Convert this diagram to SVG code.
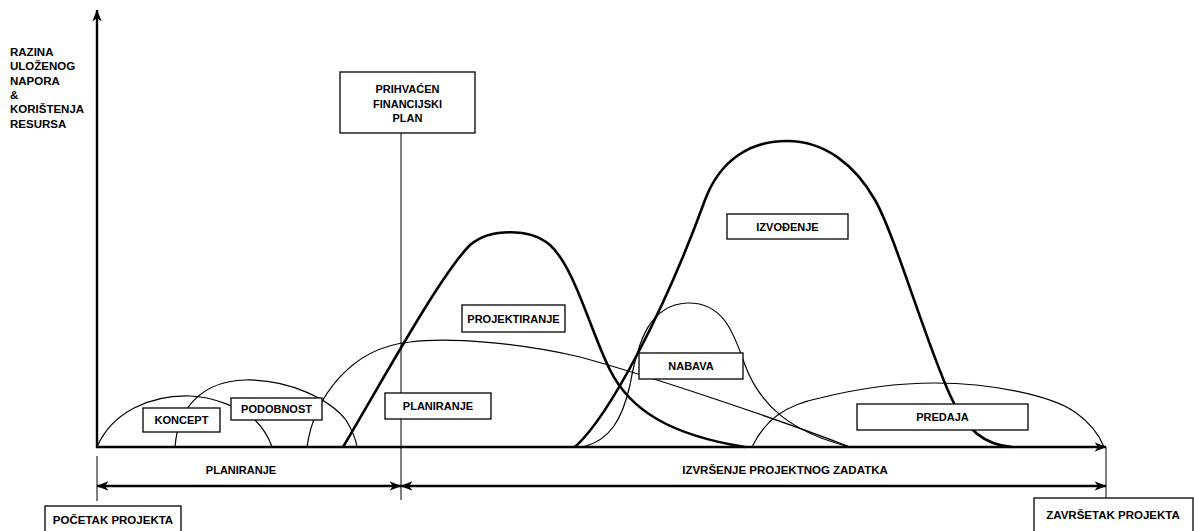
<svg xmlns="http://www.w3.org/2000/svg" width="1194" height="531" viewBox="0 0 1194 531">
<style>
  text { font-family: "Liberation Sans", Arial, sans-serif; font-weight: bold; font-size: 11px; fill: #000; }
  .c { text-anchor: middle; }
  .box { fill: #fff; stroke: #000; stroke-width: 1.3; }
  .thin { fill: none; stroke: #000; stroke-width: 1.2; }
  .thick { fill: none; stroke: #000; stroke-width: 2.6; }
  .axis { fill: none; stroke: #000; stroke-width: 2.4; }
  .tick { fill: none; stroke: #000; stroke-width: 1; }
</style>
<defs>
  <marker id="arr" viewBox="0 0 12 10" refX="11.5" refY="5" markerWidth="12" markerHeight="10" markerUnits="userSpaceOnUse" orient="auto-start-reverse">
    <path d="M0,0.3 L12,5 L0,9.7 L3.5,5 Z" fill="#000"/>
  </marker>
</defs>
<rect width="1194" height="531" fill="#fff"/>

<g id="curves">
  <path id="c-koncept" class="thin" d="M97,447 C112,412 150,395 190,396 C215,397 240,408 255,420 C263,428 269,438 272,447"/>
  <path id="c-podobnost" class="thin" d="M175,447 C178,405 205,381 245,380 C290,379 330,400 346,420 C352,430 356,440 357,447"/>
  <path id="c-planiranje" class="thin" d="M307,447 C314,398 350,348 410,342 C450,337 520,343 580,357 C650,376 780,420 850,447"/>
  <path id="c-projektiranje" class="thick" d="M343,447 C380,385 440,275 470,245 C490,228 530,228 550,245 C575,268 590,330 610,370 C630,410 670,435 745,447"/>
  <path id="c-izvodjenje" class="thick" d="M575,447 C610,415 665,310 705,200 C720,160 750,141 787,141 C825,141 855,165 875,200 C895,235 925,340 950,395 C965,430 985,445 1012,447"/>
  <path id="c-nabava" class="thin" d="M583,447 C610,440 622,420 630,385 C638,340 650,305 687,303 C722,302 733,330 745,365 C760,405 790,432 850,447"/>
  <path id="c-predaja" class="thin" d="M752,447 C765,420 785,405 820,398 C860,388 900,383 935,383 C990,383 1050,395 1075,412 C1092,424 1100,437 1104,447"/>
</g>

<g id="connectors">
  <line class="axis" x1="97" y1="448" x2="97" y2="10" marker-end="url(#arr)"/>
  <line class="axis" x1="96" y1="447" x2="1106" y2="447" marker-end="url(#arr)"/>
  <line class="tick" x1="401" y1="133" x2="401" y2="500"/>
  <line class="tick" x1="97" y1="456" x2="97" y2="501"/>
  <line class="tick" x1="1106" y1="447" x2="1106" y2="499"/>
  <line class="axis" x1="97" y1="486" x2="401" y2="486" marker-start="url(#arr)" marker-end="url(#arr)"/>
  <line class="axis" x1="401" y1="486" x2="1106" y2="486" marker-start="url(#arr)" marker-end="url(#arr)"/>
</g>

<g id="y-label">
  <text x="10" y="56" style="font-size:11.5px">RAZINA</text>
  <text x="10" y="70" style="font-size:11.5px">ULOŽENOG</text>
  <text x="10" y="85" style="font-size:11.5px">NAPORA</text>
  <text x="10" y="99" style="font-size:11.5px">&amp;</text>
  <text x="10" y="113" style="font-size:11.5px">KORIŠTENJA</text>
  <text x="10" y="128" style="font-size:11.5px">RESURSA</text>
</g>

<g id="n-financijski">
  <rect class="box" x="340" y="72" width="135" height="61"/>
  <text class="c" x="407.5" y="93">PRIHVAĆEN</text>
  <text class="c" x="407.5" y="108">FINANCIJSKI</text>
  <text class="c" x="407.5" y="122">PLAN</text>
</g>
<g id="n-koncept">
  <rect class="box" x="143" y="408" width="77" height="24"/>
  <text class="c" x="181.5" y="424">KONCEPT</text>
</g>
<g id="n-podobnost">
  <rect class="box" x="231" y="398" width="91" height="22"/>
  <text class="c" x="276.5" y="413">PODOBNOST</text>
</g>
<g id="n-planiranje">
  <rect class="box" x="385" y="393" width="106" height="26"/>
  <text class="c" x="438" y="410">PLANIRANJE</text>
</g>
<g id="n-projektiranje">
  <rect class="box" x="462" y="305" width="103" height="27"/>
  <text class="c" x="513.5" y="322.5">PROJEKTIRANJE</text>
</g>
<g id="n-nabava">
  <rect class="box" x="639" y="353" width="104" height="26"/>
  <text class="c" x="691" y="370">NABAVA</text>
</g>
<g id="n-izvodjenje">
  <rect class="box" x="727" y="214" width="121" height="25"/>
  <text class="c" x="787.5" y="230.5">IZVOĐENJE</text>
</g>
<g id="n-predaja">
  <rect class="box" x="857" y="404" width="171" height="26"/>
  <text class="c" x="942.5" y="421">PREDAJA</text>
</g>
<g id="l-planiranje">
  <text class="c" x="241" y="474">PLANIRANJE</text>
</g>
<g id="l-izvrsenje">
  <text class="c" x="785" y="474" style="font-size:11.5px">IZVRŠENJE PROJEKTNOG ZADATKA</text>
</g>
<g id="n-pocetak">
  <rect class="box" x="45" y="506" width="136" height="30"/>
  <text class="c" x="113" y="524" style="font-size:11.5px">POČETAK PROJEKTA</text>
</g>
<g id="n-zavrsetak">
  <rect class="box" x="1034" y="498" width="159" height="38"/>
  <text class="c" x="1113" y="519" style="font-size:11.5px">ZAVRŠETAK PROJEKTA</text>
</g>
</svg>
